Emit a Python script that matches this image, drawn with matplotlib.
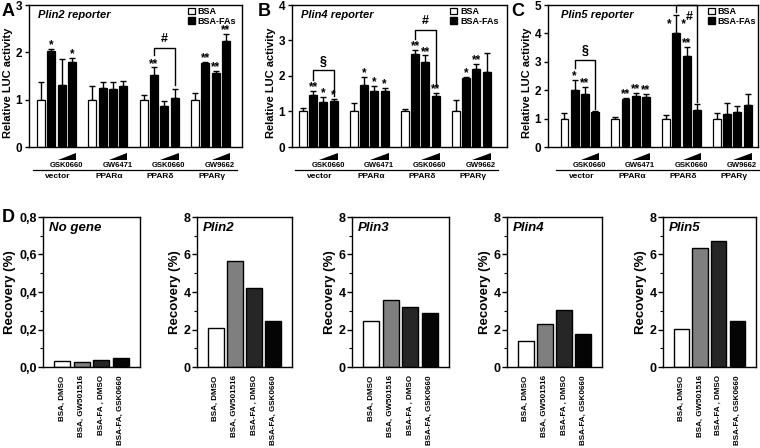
import numpy as np
import matplotlib
matplotlib.use('Agg')
import matplotlib.pyplot as plt
from matplotlib.patches import Patch, Polygon
import matplotlib.transforms as mtransforms

plt.rcParams['font.family'] = ['Liberation Sans', 'DejaVu Sans']
plt.rcParams['font.weight'] = 'bold'
plt.rcParams['axes.labelweight'] = 'bold'
plt.rcParams['axes.linewidth'] = 1.0

# --- reporter data (A-C), 4 groups x 4 bars: BSA, BSA-FAs, ligand low, ligand high
receptors = ['vector', 'PPARα', 'PPARδ', 'PPARγ']
ligands = ['GSK0660', 'GW6471', 'GSK0660', 'GW9662']

plin2_mean = [1.00, 2.02, 1.31, 1.80, 1.00, 1.24, 1.22, 1.28, 1.00, 1.53, 0.86, 1.03, 1.00, 1.78, 1.57, 2.24]
plin2_err = [0.38, 0.05, 0.55, 0.09, 0.28, 0.14, 0.15, 0.11, 0.09, 0.15, 0.12, 0.20, 0.14, 0.02, 0.04, 0.15]
plin2_stars = ['', '*', '', '*', '', '', '', '', '', '**', '', '', '', '**', '**', '**']

plin4_mean = [1.00, 1.47, 1.28, 1.30, 1.00, 1.75, 1.59, 1.59, 1.00, 2.61, 2.39, 1.44, 1.00, 1.94, 2.20, 2.12]
plin4_err = [0.11, 0.11, 0.12, 0.05, 0.25, 0.22, 0.14, 0.07, 0.07, 0.12, 0.19, 0.08, 0.33, 0.03, 0.14, 0.52]
plin4_stars = ['', '**', '*', '*', '', '*', '*', '*', '', '**', '**', '**', '', '*', '**', '']

plin5_mean = [1.00, 1.99, 1.87, 1.22, 1.00, 1.69, 1.78, 1.75, 1.00, 4.00, 3.22, 1.30, 1.00, 1.16, 1.22, 1.48]
plin5_err = [0.21, 0.38, 0.24, 0.06, 0.06, 0.05, 0.12, 0.11, 0.13, 0.64, 0.31, 0.22, 0.19, 0.38, 0.23, 0.37]
plin5_stars = ['', '*', '**', '', '', '**', '**', '**', '', '*   *', '**', '', '', '', '', '']

# brackets: (symbol, first bar, last bar, top, left leg end, right leg end)
plin2_brackets = [('#', 9, 11, 2.10, 1.95, 1.32)]
plin4_brackets = [('§', 1, 3, 2.16, 1.90, 1.45), ('#', 9, 11, 3.30, 3.03, 1.75)]
plin5_brackets = [('§', 1, 3, 3.08, 2.78, 1.35), ('#', 9, 11, 5.00, 4.74, 1.60)]

# --- ChIP recovery data (D)
chip_labels = ['BSA, DMSO', 'BSA, GW501516', 'BSA-FA , DMSO', 'BSA-FA, GSK0660']
chip_colors = ['white', '#7f7f7f', '#262626', '#050505']
nogene_rec = [0.030, 0.025, 0.037, 0.050]
plin2_rec = [2.10, 5.68, 4.22, 2.44]
plin3_rec = [2.46, 3.58, 3.18, 2.90]
plin4_rec = [1.38, 2.30, 3.03, 1.74]
plin5_rec = [2.05, 6.32, 6.74, 2.46]

W, H = 760, 448
fig = plt.figure(figsize=(W / 100, H / 100), dpi=100)


def rect(l, r, t, b):
    return [l / W, 1 - b / H, (r - l) / W, (b - t) / H]


def reporter(box, mean, err, stars, brackets, title, ymax, xlim, leg_x, letter, letter_xy):
    ax = fig.add_axes(rect(*box))
    x = np.array([5 * g + i for g in range(4) for i in range(4)])
    cols = ['white', 'black', 'black', 'black'] * 4
    mean = np.array(mean)
    err = np.array(err)
    ax.bar(x, mean, width=0.78, color=cols, edgecolor='black', linewidth=0.9, zorder=2)
    ax.errorbar(x, mean, yerr=[np.zeros_like(err), err], fmt='none', ecolor='black',
                elinewidth=1.0, capsize=2, capthick=1.0, zorder=1)
    for xi, m, e, s in zip(x, mean, err, stars):
        if not s:
            continue
        if s.count(' '):
            # stars split around a long error bar
            ax.annotate(s, (xi, m + e * 0.45), xytext=(0, -2), textcoords='offset points',
                        ha='center', va='baseline', fontsize=8.5)
        else:
            ax.annotate(s, (xi, m + e), xytext=(0, 0.5), textcoords='offset points',
                        ha='center', va='baseline', fontsize=8.5)
    for sym, i0, i1, top, l_end, r_end in brackets:
        ax.plot([x[i0], x[i0], x[i1], x[i1]], [l_end, top, top, r_end], color='black',
                lw=1.0, clip_on=False)
        if top >= ymax:
            ax.text((x[i0] + x[i1]) / 2 + 0.3, top - 0.04 * ymax, sym, ha='center', va='top', fontsize=9)
        else:
            ax.text((x[i0] + x[i1]) / 2, top + 0.02 * ymax, sym, ha='center', va='bottom', fontsize=9)
    ax.set_ylim(0, ymax)
    ax.set_xlim(*xlim)
    ax.set_yticks(range(0, ymax + 1))
    ax.tick_params(axis='y', direction='out', length=3, width=1, labelsize=8.5, pad=2)
    ax.set_xticks([])
    ax.set_ylabel('Relative LUC activity', fontsize=8, labelpad=3)
    ax.yaxis.set_label_coords(-0.075, 0.45)
    ax.text(0.04 if letter != 'C' else 0.06, 0.93, title, transform=ax.transAxes, fontsize=8,
            style='italic', va='center')
    ax.legend(handles=[Patch(fc='white', ec='black', lw=0.9), Patch(fc='black', ec='black')],
              labels=['BSA', 'BSA-FAs'], loc='upper left', bbox_to_anchor=(leg_x, 0.985),
              frameon=False, fontsize=6.5, handlelength=0.8, handleheight=0.8,
              handletextpad=0.3, borderpad=0, labelspacing=0.05, borderaxespad=0)
    # treatment annotations under the axis
    tr = mtransforms.blended_transform_factory(ax.transData, ax.transAxes)
    for g in range(4):
        x0 = 5 * g
        wedge = Polygon([[x0 + 1.6, -0.092], [x0 + 3.4, -0.092], [x0 + 3.4, -0.042]],
                        closed=True, fc='black', ec='none', transform=tr, clip_on=False)
        ax.add_patch(wedge)
        ax.text(x0 + 2.45, -0.127, ligands[g], transform=tr, ha='center', va='center', fontsize=5.5)
        ax.plot([x0 - 0.8, x0 + 4.1], [-0.162, -0.162], color='black', lw=0.9,
                transform=tr, clip_on=False)
        ax.text(x0 + 1.65, -0.205, receptors[g], transform=tr, ha='center', va='center', fontsize=6)
    fig.text(letter_xy[0] / W, 1 - letter_xy[1] / H, letter, fontsize=13, ha='left', va='center')
    return ax


reporter((29, 242, 5, 147), plin2_mean, plin2_err, plin2_stars, plin2_brackets,
         'Plin2 reporter', 3, (-1.18, 19.57), 0.745, 'A', (2, 12))
reporter((292, 507, 5, 147), plin4_mean, plin4_err, plin4_stars, plin4_brackets,
         'Plin4 reporter', 4, (-1.08, 20.0), 0.735, 'B', (258, 12))
reporter((548, 758, 5, 147), plin5_mean, plin5_err, plin5_stars, plin5_brackets,
         'Plin5 reporter', 5, (-1.62, 19.02), 0.76, 'C', (511, 12))


def chip(box, vals, title, ymax, step, ticklabels):
    ax = fig.add_axes(rect(*box))
    xs = np.arange(1, 5)
    ax.bar(xs, vals, width=0.82, color=chip_colors, edgecolor='black', linewidth=1.0)
    ax.set_xlim(0.02, 5.0)
    ax.set_ylim(0, ymax)
    ax.set_yticks(np.arange(0, ymax + step / 2, step))
    ax.set_yticklabels(ticklabels)
    ax.set_yticks(np.arange(step / 2, ymax, step), minor=True)
    ax.tick_params(axis='y', which='major', direction='out', length=3.5, width=1, labelsize=9, pad=1)
    ax.tick_params(axis='y', which='minor', direction='out', length=2, width=0.8)
    ax.set_xticks(xs)
    ax.set_xticklabels(chip_labels, rotation=90, fontsize=5.8)
    ax.tick_params(axis='x', length=0, pad=6)
    ax.set_ylabel('Recovery (%)', fontsize=9.5, labelpad=2)
    ax.text(0.06, 0.93, title, transform=ax.transAxes, fontsize=9.5, style='italic', va='center')
    return ax


chip((43, 140, 217, 367), nogene_rec, 'No gene', 0.8, 0.2, ['0,0', '0,2', '0,4', '0,6', '0,8'])
chip((197, 292, 217, 367), plin2_rec, 'Plin2', 8, 2, ['0', '2', '4', '6', '8'])
chip((352, 449, 217, 367), plin3_rec, 'Plin3', 8, 2, ['0', '2', '4', '6', '8'])
chip((507, 602, 217, 367), plin4_rec, 'Plin4', 8, 2, ['0', '2', '4', '6', '8'])
chip((663, 756, 217, 367), plin5_rec, 'Plin5', 8, 2, ['0', '2', '4', '6', '8'])
fig.text(2 / W, 1 - 218 / H, 'D', fontsize=13, ha='left', va='center')

fig.savefig('out.png', dpi=100)
